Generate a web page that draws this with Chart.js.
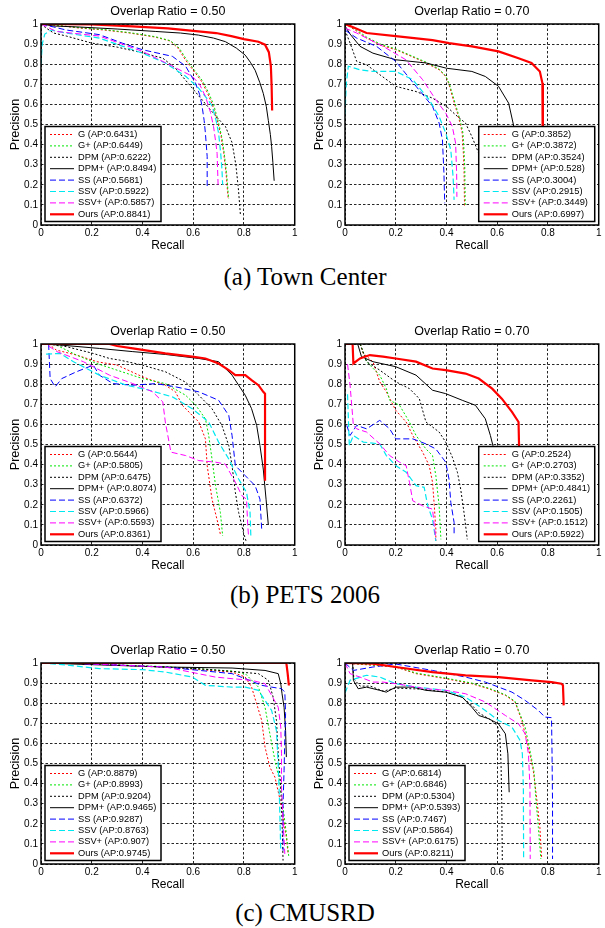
<!DOCTYPE html>
<html>
<head>
<meta charset="utf-8">
<script src="https://cdn.jsdelivr.net/npm/chart.js@4.4.0/dist/chart.umd.min.js"></script>
<style>
  body { margin: 0; background: #fff; width: 605px; height: 928px; position: relative; overflow: hidden; }
  .panel { position: absolute; width: 300px; height: 257px; }
  .caption { position: absolute; left: 0; width: 610px; text-align: center;
             font-family: "Liberation Serif", serif; font-size: 25px; line-height: 30px; color: #000; }
</style>
</head>
<body>
<div class="panel" style="left:0;top:0"><canvas id="tc50"></canvas></div>
<div class="panel" style="left:304px;top:0"><canvas id="tc70"></canvas></div>
<div class="caption" style="top:262px">(a) Town Center</div>
<div class="panel" style="left:0;top:320px"><canvas id="pets50"></canvas></div>
<div class="panel" style="left:304px;top:320px"><canvas id="pets70"></canvas></div>
<div class="caption" style="top:580px">(b) PETS 2006</div>
<div class="panel" style="left:0;top:639px"><canvas id="cmu50"></canvas></div>
<div class="panel" style="left:304px;top:639px"><canvas id="cmu70"></canvas></div>
<div class="caption" style="top:898px">(c) CMUSRD</div>

<script>
// --- Data: tick values, method names, AP scores, PR curves ([recall, precision]) ---

const xTicks = [0, 0.2, 0.4, 0.6, 0.8, 1];
const yTicks = [0, 0.1, 0.2, 0.3, 0.4, 0.5, 0.6, 0.7, 0.8, 0.9, 1];
const methods = ['G', 'G+', 'DPM', 'DPM+', 'SS', 'SSV', 'SSV+', 'Ours'];

// Town Center, overlap 0.50
const apTc50 = [0.6431, 0.6449, 0.6222, 0.8494, 0.5681, 0.5922, 0.5857, 0.8841];
const tc50_G = [[0,1],[0.05,0.995],[0.15,0.98],[0.25,0.97],[0.35,0.955],[0.45,0.935],[0.51,0.915],[0.54,0.88],[0.57,0.82],[0.6,0.77],[0.63,0.72],[0.655,0.66],[0.675,0.6],[0.695,0.52],[0.71,0.44],[0.72,0.36],[0.73,0.25],[0.735,0.17],[0.738,0.13]];
const tc50_Gp = [[0,1],[0.05,0.995],[0.15,0.982],[0.25,0.972],[0.35,0.957],[0.45,0.937],[0.51,0.917],[0.545,0.88],[0.575,0.82],[0.605,0.77],[0.635,0.72],[0.66,0.66],[0.68,0.6],[0.698,0.52],[0.712,0.44],[0.722,0.36],[0.732,0.25],[0.737,0.17],[0.74,0.13]];
const tc50_DPM = [[0,1],[0.02,0.98],[0.05,0.955],[0.1,0.94],[0.2,0.905],[0.3,0.885],[0.4,0.857],[0.48,0.83],[0.53,0.78],[0.57,0.72],[0.61,0.66],[0.65,0.6],[0.69,0.54],[0.727,0.49],[0.753,0.41],[0.768,0.3],[0.778,0.18],[0.786,0.05]];
const tc50_DPMp = [[0,1],[0.05,0.99],[0.15,0.985],[0.3,0.975],[0.45,0.963],[0.55,0.955],[0.62,0.945],[0.68,0.93],[0.727,0.912],[0.77,0.88],[0.805,0.845],[0.825,0.81],[0.844,0.77],[0.862,0.71],[0.876,0.655],[0.888,0.59],[0.896,0.52],[0.904,0.45],[0.909,0.39],[0.914,0.31],[0.919,0.22]];
const tc50_SS = [[0,1],[0.05,0.985],[0.1,0.97],[0.23,0.947],[0.32,0.905],[0.4,0.872],[0.518,0.839],[0.57,0.79],[0.609,0.706],[0.625,0.65],[0.635,0.59],[0.643,0.52],[0.648,0.457],[0.655,0.34],[0.655,0.19]];
const tc50_SSV = [[0,0.8],[0.005,0.9],[0.015,0.95],[0.04,0.97],[0.1,0.955],[0.23,0.93],[0.32,0.89],[0.4,0.855],[0.49,0.806],[0.57,0.74],[0.622,0.68],[0.66,0.62],[0.675,0.59],[0.69,0.52],[0.7,0.457],[0.708,0.36],[0.713,0.28],[0.716,0.2]];
const tc50_SSVp = [[0,1],[0.06,0.963],[0.23,0.94],[0.4,0.864],[0.518,0.79],[0.596,0.74],[0.625,0.7],[0.648,0.64],[0.668,0.56],[0.68,0.49],[0.69,0.4],[0.694,0.357],[0.698,0.2]];
const tc50_Ours = [[0,1],[0.2,0.998],[0.36,0.988],[0.5,0.978],[0.57,0.97],[0.69,0.955],[0.75,0.94],[0.8,0.925],[0.857,0.912],[0.883,0.897],[0.898,0.86],[0.906,0.79],[0.909,0.69],[0.911,0.57]];

// Town Center, overlap 0.70
const apTc70 = [0.3852, 0.3872, 0.3524, 0.528, 0.3004, 0.2915, 0.3449, 0.6997];
const tc70_G = [[0,1],[0.04,0.97],[0.085,0.93],[0.14,0.895],[0.2,0.872],[0.26,0.84],[0.32,0.806],[0.371,0.772],[0.397,0.739],[0.41,0.7],[0.423,0.64],[0.443,0.556],[0.455,0.5],[0.462,0.457],[0.466,0.37],[0.469,0.29],[0.47,0.2],[0.471,0.09]];
const tc70_Gp = [[0,1],[0.04,0.975],[0.085,0.935],[0.14,0.9],[0.2,0.876],[0.26,0.843],[0.32,0.81],[0.371,0.776],[0.397,0.742],[0.412,0.7],[0.426,0.64],[0.446,0.556],[0.458,0.5],[0.465,0.457],[0.469,0.37],[0.472,0.29],[0.473,0.2],[0.474,0.09]];
const tc70_DPM = [[0,0.97],[0.02,0.905],[0.046,0.814],[0.085,0.797],[0.137,0.748],[0.2,0.69],[0.28,0.664],[0.345,0.631],[0.4,0.59],[0.436,0.548],[0.475,0.507],[0.5,0.44],[0.527,0.357],[0.54,0.257],[0.55,0.15],[0.555,0.08]];
const tc70_DPMp = [[0,0.99],[0.02,0.95],[0.059,0.889],[0.11,0.855],[0.2,0.822],[0.32,0.806],[0.4,0.78],[0.5,0.764],[0.553,0.739],[0.605,0.69],[0.645,0.606],[0.664,0.498],[0.675,0.4],[0.68,0.3]];
const tc70_SS = [[0,0.97],[0.046,0.93],[0.124,0.889],[0.2,0.814],[0.28,0.69],[0.345,0.59],[0.371,0.507],[0.384,0.424],[0.39,0.257],[0.393,0.108]];
const tc70_SSV = [[0,0.55],[0.005,0.7],[0.013,0.79],[0.059,0.772],[0.11,0.764],[0.2,0.764],[0.267,0.723],[0.332,0.623],[0.371,0.54],[0.397,0.457],[0.417,0.374],[0.426,0.24],[0.43,0.125]];
const tc70_SSVp = [[0,0.98],[0.046,0.955],[0.15,0.889],[0.24,0.822],[0.306,0.723],[0.358,0.623],[0.397,0.557],[0.423,0.49],[0.436,0.407],[0.44,0.257],[0.441,0.14]];
const tc70_Ours = [[0,1],[0.03,0.985],[0.085,0.955],[0.2,0.94],[0.345,0.92],[0.41,0.905],[0.5,0.889],[0.605,0.864],[0.684,0.83],[0.735,0.806],[0.768,0.764],[0.778,0.706],[0.78,0.49],[0.78,0.2]];

// PETS 2006, overlap 0.50
const apPets50 = [0.5644, 0.5805, 0.6475, 0.8074, 0.6372, 0.5966, 0.5593, 0.8361];
const pets50_G = [[0.03,1],[0.06,0.97],[0.14,0.945],[0.22,0.912],[0.3,0.895],[0.4,0.837],[0.49,0.795],[0.53,0.762],[0.557,0.695],[0.596,0.645],[0.622,0.612],[0.648,0.528],[0.655,0.395],[0.674,0.228],[0.7,0.095],[0.707,0.053]];
const pets50_Gp = [[0.03,1],[0.06,0.995],[0.14,0.945],[0.22,0.903],[0.4,0.828],[0.49,0.803],[0.57,0.745],[0.61,0.695],[0.648,0.628],[0.661,0.545],[0.674,0.428],[0.688,0.295],[0.707,0.162],[0.716,0.045]];
const pets50_DPM = [[0.03,1],[0.1,0.987],[0.206,0.953],[0.27,0.928],[0.31,0.92],[0.4,0.895],[0.49,0.862],[0.57,0.81],[0.622,0.745],[0.674,0.678],[0.713,0.595],[0.74,0.495],[0.753,0.395],[0.766,0.262],[0.779,0.162],[0.798,0.062],[0.81,0.012]];
const pets50_DPMp = [[0,1],[0.075,0.995],[0.23,0.978],[0.362,0.962],[0.49,0.948],[0.622,0.928],[0.7,0.912],[0.753,0.845],[0.805,0.745],[0.83,0.678],[0.85,0.595],[0.863,0.495],[0.876,0.378],[0.887,0.228],[0.896,0.1]];
const pets50_SS = [[0.03,1],[0.036,0.828],[0.056,0.787],[0.082,0.828],[0.14,0.862],[0.206,0.895],[0.23,0.845],[0.284,0.803],[0.362,0.795],[0.453,0.803],[0.53,0.787],[0.622,0.762],[0.7,0.72],[0.74,0.645],[0.753,0.545],[0.766,0.395],[0.805,0.345],[0.844,0.295],[0.863,0.228],[0.87,0.075]];
const pets50_SSV = [[0.02,0.95],[0.075,0.953],[0.128,0.912],[0.23,0.845],[0.336,0.795],[0.427,0.77],[0.518,0.737],[0.596,0.678],[0.661,0.612],[0.7,0.512],[0.74,0.428],[0.779,0.328],[0.81,0.262],[0.824,0.162],[0.827,0.045]];
const pets50_SSVp = [[0.03,0.99],[0.063,0.962],[0.167,0.912],[0.27,0.845],[0.362,0.803],[0.44,0.762],[0.48,0.712],[0.49,0.612],[0.512,0.462],[0.57,0.445],[0.622,0.42],[0.688,0.412],[0.726,0.403],[0.766,0.312],[0.792,0.245],[0.81,0.228],[0.815,0.095],[0.818,0.045]];
const pets50_Ours = [[0,1],[0.27,1],[0.3,0.99],[0.362,0.978],[0.49,0.953],[0.596,0.937],[0.648,0.928],[0.7,0.903],[0.74,0.87],[0.766,0.845],[0.805,0.845],[0.83,0.82],[0.857,0.795],[0.876,0.762],[0.883,0.753],[0.883,0.32]];

// PETS 2006, overlap 0.70
const apPets70 = [0.2524, 0.2703, 0.3352, 0.4841, 0.2261, 0.1505, 0.1512, 0.5922];
const pets70_G = [[0.06,1],[0.072,0.953],[0.11,0.912],[0.137,0.812],[0.163,0.762],[0.2,0.67],[0.241,0.612],[0.267,0.545],[0.306,0.462],[0.332,0.395],[0.345,0.312],[0.352,0.195],[0.358,0.078],[0.358,0.02]];
const pets70_Gp = [[0.06,1],[0.085,0.912],[0.137,0.845],[0.163,0.778],[0.176,0.72],[0.215,0.695],[0.254,0.612],[0.28,0.545],[0.319,0.478],[0.345,0.445],[0.358,0.345],[0.371,0.195],[0.378,0.028]];
const pets70_DPM = [[0.06,1],[0.085,0.912],[0.137,0.87],[0.2,0.812],[0.254,0.778],[0.293,0.728],[0.319,0.612],[0.371,0.562],[0.397,0.512],[0.423,0.437],[0.443,0.362],[0.456,0.278],[0.469,0.162],[0.482,0.028]];
const pets70_DPMp = [[0.05,1],[0.065,0.937],[0.11,0.912],[0.2,0.887],[0.28,0.845],[0.345,0.77],[0.397,0.753],[0.462,0.72],[0.514,0.695],[0.553,0.628],[0.573,0.545],[0.583,0.495],[0.59,0.4]];
const pets70_SS = [[0.007,0.595],[0.02,0.545],[0.046,0.595],[0.085,0.578],[0.137,0.62],[0.176,0.578],[0.2,0.528],[0.267,0.528],[0.319,0.503],[0.358,0.478],[0.397,0.412],[0.41,0.328],[0.417,0.212],[0.43,0.112],[0.43,0.053]];
const pets70_SSV = [[0.01,0.75],[0.017,0.495],[0.033,0.545],[0.072,0.512],[0.137,0.503],[0.163,0.445],[0.2,0.395],[0.241,0.362],[0.28,0.295],[0.312,0.287],[0.326,0.195],[0.345,0.128],[0.358,0.02]];
const pets70_SSVp = [[0.01,0.9],[0.02,0.795],[0.033,0.595],[0.046,0.578],[0.085,0.562],[0.137,0.503],[0.176,0.445],[0.215,0.412],[0.241,0.395],[0.254,0.312],[0.267,0.22],[0.306,0.195],[0.345,0.178],[0.352,0.095],[0.358,0.028]];
const pets70_Ours = [[0,1],[0.03,1],[0.033,0.903],[0.059,0.928],[0.098,0.945],[0.15,0.937],[0.2,0.928],[0.28,0.912],[0.345,0.878],[0.397,0.87],[0.475,0.853],[0.527,0.828],[0.58,0.778],[0.618,0.728],[0.658,0.662],[0.684,0.612],[0.686,0.495],[0.686,0.3]];

// CMUSRD, overlap 0.50
const apCmu50 = [0.8879, 0.8993, 0.9204, 0.9465, 0.9287, 0.8763, 0.907, 0.9745];
const cmu50_G = [[0.1,1],[0.49,0.98],[0.753,0.955],[0.805,0.93],[0.83,0.88],[0.85,0.797],[0.87,0.714],[0.883,0.581],[0.902,0.482],[0.922,0.432],[0.94,0.332],[0.954,0.232],[0.967,0.133],[0.974,0.05]];
const cmu50_Gp = [[0.1,1],[0.49,0.982],[0.753,0.96],[0.805,0.947],[0.857,0.88],[0.883,0.78],[0.902,0.648],[0.922,0.515],[0.94,0.415],[0.954,0.282],[0.967,0.15],[0.977,0.033]];
const cmu50_DPM = [[0.1,1],[0.62,0.972],[0.857,0.947],[0.896,0.914],[0.915,0.83],[0.928,0.714],[0.935,0.548],[0.945,0.382],[0.95,0.216],[0.954,0.017]];
const cmu50_DPMp = [[0,1],[0.49,0.98],[0.753,0.975],[0.883,0.963],[0.935,0.947],[0.945,0.897],[0.95,0.847],[0.958,0.78],[0.964,0.664],[0.967,0.532]];
const cmu50_SS = [[0.1,1],[0.49,0.98],[0.753,0.947],[0.805,0.922],[0.87,0.889],[0.909,0.88],[0.948,0.872],[0.961,0.855],[0.964,0.748],[0.961,0.631],[0.958,0.465],[0.954,0.3],[0.954,0.066]];
const cmu50_SSV = [[0,1],[0.1,0.99],[0.23,0.972],[0.4,0.967],[0.49,0.955],[0.596,0.93],[0.648,0.889],[0.753,0.88],[0.805,0.88],[0.857,0.864],[0.883,0.814],[0.909,0.764],[0.928,0.664],[0.935,0.498],[0.94,0.316],[0.945,0.066]];
const cmu50_SSVp = [[0.1,1],[0.49,0.98],[0.687,0.93],[0.753,0.922],[0.83,0.914],[0.883,0.897],[0.909,0.839],[0.935,0.78],[0.945,0.681],[0.948,0.548],[0.948,0.382],[0.954,0.216],[0.961,0.05]];
const cmu50_Ours = [[0,1],[0.967,1],[0.972,0.95],[0.977,0.888]];

// CMUSRD, overlap 0.70
const apCmu70 = [0.6814, 0.6846, 0.5304, 0.5393, 0.7467, 0.5864, 0.6175, 0.8211];
const cmu70_G = [[0,1],[0.2,0.98],[0.28,0.947],[0.397,0.922],[0.5,0.897],[0.566,0.872],[0.632,0.839],[0.67,0.806],[0.697,0.714],[0.723,0.581],[0.742,0.465],[0.755,0.332],[0.768,0.183],[0.775,0.033]];
const cmu70_Gp = [[0,1],[0.2,0.982],[0.28,0.95],[0.397,0.925],[0.5,0.9],[0.566,0.875],[0.632,0.842],[0.67,0.81],[0.71,0.68],[0.73,0.56],[0.745,0.46],[0.752,0.33],[0.762,0.183],[0.772,0.025]];
const cmu70_DPM = [[0.03,1],[0.035,0.92],[0.06,0.885],[0.1,0.885],[0.15,0.86],[0.2,0.875],[0.3,0.87],[0.4,0.855],[0.46,0.83],[0.5,0.79],[0.53,0.75],[0.57,0.72],[0.6,0.69],[0.61,0.64],[0.615,0.5],[0.618,0.3],[0.62,0.02]];
const cmu70_DPMp = [[0.03,1],[0.033,0.914],[0.052,0.872],[0.085,0.88],[0.137,0.864],[0.163,0.855],[0.2,0.88],[0.267,0.88],[0.319,0.864],[0.397,0.855],[0.462,0.83],[0.5,0.78],[0.527,0.739],[0.566,0.723],[0.605,0.697],[0.632,0.648],[0.642,0.548],[0.647,0.357]];
const cmu70_SS = [[0,1],[0.033,0.963],[0.11,0.98],[0.2,0.995],[0.345,0.963],[0.475,0.93],[0.553,0.905],[0.658,0.855],[0.71,0.814],[0.762,0.764],[0.788,0.731],[0.814,0.728],[0.816,0.548],[0.818,0.3],[0.818,0.025]];
const cmu70_SSV = [[0,0.85],[0.02,0.914],[0.085,0.939],[0.137,0.93],[0.2,0.897],[0.28,0.88],[0.397,0.864],[0.475,0.83],[0.553,0.764],[0.605,0.714],[0.658,0.681],[0.69,0.615],[0.699,0.548],[0.703,0.382],[0.704,0.025]];
const cmu70_SSVp = [[0,1],[0.02,0.947],[0.059,0.93],[0.11,0.905],[0.15,0.905],[0.2,0.897],[0.319,0.872],[0.397,0.864],[0.475,0.847],[0.553,0.806],[0.632,0.739],[0.684,0.697],[0.71,0.648],[0.723,0.548],[0.729,0.382],[0.73,0.025]];
const cmu70_Ours = [[0,1],[0.11,0.997],[0.2,0.98],[0.345,0.955],[0.475,0.938],[0.605,0.93],[0.736,0.914],[0.814,0.905],[0.853,0.897],[0.859,0.889],[0.862,0.789]];

// --- Line styles per method (MATLAB look: ':' dotted, '--' dashed, '-' solid) ---
const lineStyles = [
    { color: '#ff0000', dash: [2, 2], width: 1 },   // G
    { color: '#00e600', dash: [2, 2], width: 1 },   // G+
    { color: '#000000', dash: [2, 2], width: 1 },   // DPM
    { color: '#000000', dash: [],     width: 1 },   // DPM+
    { color: '#0000ff', dash: [6, 3], width: 1 },   // SS
    { color: '#00e8f0', dash: [6, 3], width: 1.2 }, // SSV
    { color: '#ff00ff', dash: [6, 3], width: 1 },   // SSV+
    { color: '#ff0000', dash: [],     width: 2.2 }  // Ours
];

Chart.defaults.font.family = '"Liberation Sans", Arial, sans-serif';
Chart.defaults.color = '#000';

// Box around the axes + MATLAB-style legend inside the plot
const framedLegend = {
    id: 'framedLegend',
    afterDatasetsDraw(chart, args, opts) {
        const { ctx, chartArea: a } = chart;
        ctx.save();
        ctx.setLineDash([]);
        ctx.strokeStyle = '#000';
        ctx.lineWidth = 1.5;
        ctx.strokeRect(a.left, a.top, a.width, a.height);

        const w = 116, h = 95;
        const x = opts.side === 'right' ? a.right - 4 - w : a.left + 4;
        const y = a.bottom - 3.5 - h;
        ctx.fillStyle = '#fff';
        ctx.fillRect(x, y, w, h);
        ctx.lineWidth = 1.5;
        ctx.strokeRect(x, y, w, h);

        ctx.font = '9.3px "Liberation Sans"';
        ctx.textAlign = 'left';
        ctx.textBaseline = 'middle';
        chart.data.datasets.forEach((ds, i) => {
            const yy = y + 8 + i * 11.4;
            ctx.strokeStyle = ds.borderColor;
            ctx.lineWidth = ds.borderWidth;
            ctx.setLineDash(ds.borderDash);
            ctx.beginPath();
            ctx.moveTo(x + 5, yy);
            ctx.lineTo(x + 29, yy);
            ctx.stroke();
            ctx.setLineDash([]);
            ctx.fillStyle = '#000';
            ctx.fillText(ds.label, x + 33, yy);
        });
        ctx.restore();
    }
};

function axisOptions(ticks, isX) {
    return {
        type: 'linear',
        position: isX ? 'bottom' : 'left',
        min: 0,
        max: 1,
        afterBuildTicks: (scale) => { scale.ticks = ticks.map(v => ({ value: v })); },
        afterFit: (scale) => { if (isX) scale.height = 32; else scale.width = 41; },
        ticks: {
            font: { size: 10 },
            color: '#000',
            padding: isX ? 2.5 : 3,
            maxRotation: 0,
            autoSkip: false,
            callback: (v) => String(v)
        },
        grid: { color: 'rgba(0,0,0,0.85)', lineWidth: 1, drawTicks: false },
        border: { display: false, dash: [2.5, 2] },
        title: isX
            ? { display: true, text: 'Recall', font: { size: 12 }, color: '#000', padding: { top: 0, bottom: 4.3 } }
            : { display: true, text: 'Precision', font: { size: 12.5 }, color: '#000', padding: { top: 8, bottom: 0 } }
    };
}

function drawPanel(id, title, curves, aps, legendSide) {
    new Chart(document.getElementById(id), {
        type: 'scatter',
        data: {
            datasets: curves.map((pts, i) => ({
                label: methods[i] + ' (AP:' + aps[i] + ')',
                data: pts.map(([r, p]) => ({ x: r, y: p })),
                showLine: true,
                borderColor: lineStyles[i].color,
                borderDash: lineStyles[i].dash,
                borderWidth: lineStyles[i].width,
                pointRadius: 0,
                tension: 0,
                order: 7 - i // Ours drawn on top
            }))
        },
        options: {
            responsive: true,
            maintainAspectRatio: false,
            animation: false,
            events: [],
            layout: { padding: { left: 0, right: 3, top: 0, bottom: 0 } },
            scales: { x: axisOptions(xTicks, true), y: axisOptions(yTicks, false) },
            plugins: {
                legend: { display: false },
                tooltip: { enabled: false },
                title: {
                    display: true,
                    text: title,
                    fullSize: false,
                    font: { size: 12.5, weight: 'normal' },
                    color: '#000',
                    padding: { top: 4, bottom: 5 }
                },
                framedLegend: { side: legendSide }
            }
        },
        plugins: [framedLegend]
    });
}

drawPanel('tc50', 'Overlap Ratio = 0.50',
    [tc50_G, tc50_Gp, tc50_DPM, tc50_DPMp, tc50_SS, tc50_SSV, tc50_SSVp, tc50_Ours], apTc50, 'left');
drawPanel('tc70', 'Overlap Ratio = 0.70',
    [tc70_G, tc70_Gp, tc70_DPM, tc70_DPMp, tc70_SS, tc70_SSV, tc70_SSVp, tc70_Ours], apTc70, 'right');
drawPanel('pets50', 'Overlap Ratio = 0.50',
    [pets50_G, pets50_Gp, pets50_DPM, pets50_DPMp, pets50_SS, pets50_SSV, pets50_SSVp, pets50_Ours], apPets50, 'left');
drawPanel('pets70', 'Overlap Ratio = 0.70',
    [pets70_G, pets70_Gp, pets70_DPM, pets70_DPMp, pets70_SS, pets70_SSV, pets70_SSVp, pets70_Ours], apPets70, 'right');
drawPanel('cmu50', 'Overlap Ratio = 0.50',
    [cmu50_G, cmu50_Gp, cmu50_DPM, cmu50_DPMp, cmu50_SS, cmu50_SSV, cmu50_SSVp, cmu50_Ours], apCmu50, 'left');
drawPanel('cmu70', 'Overlap Ratio = 0.70',
    [cmu70_G, cmu70_Gp, cmu70_DPM, cmu70_DPMp, cmu70_SS, cmu70_SSV, cmu70_SSVp, cmu70_Ours], apCmu70, 'left');
</script>
</body>
</html>
